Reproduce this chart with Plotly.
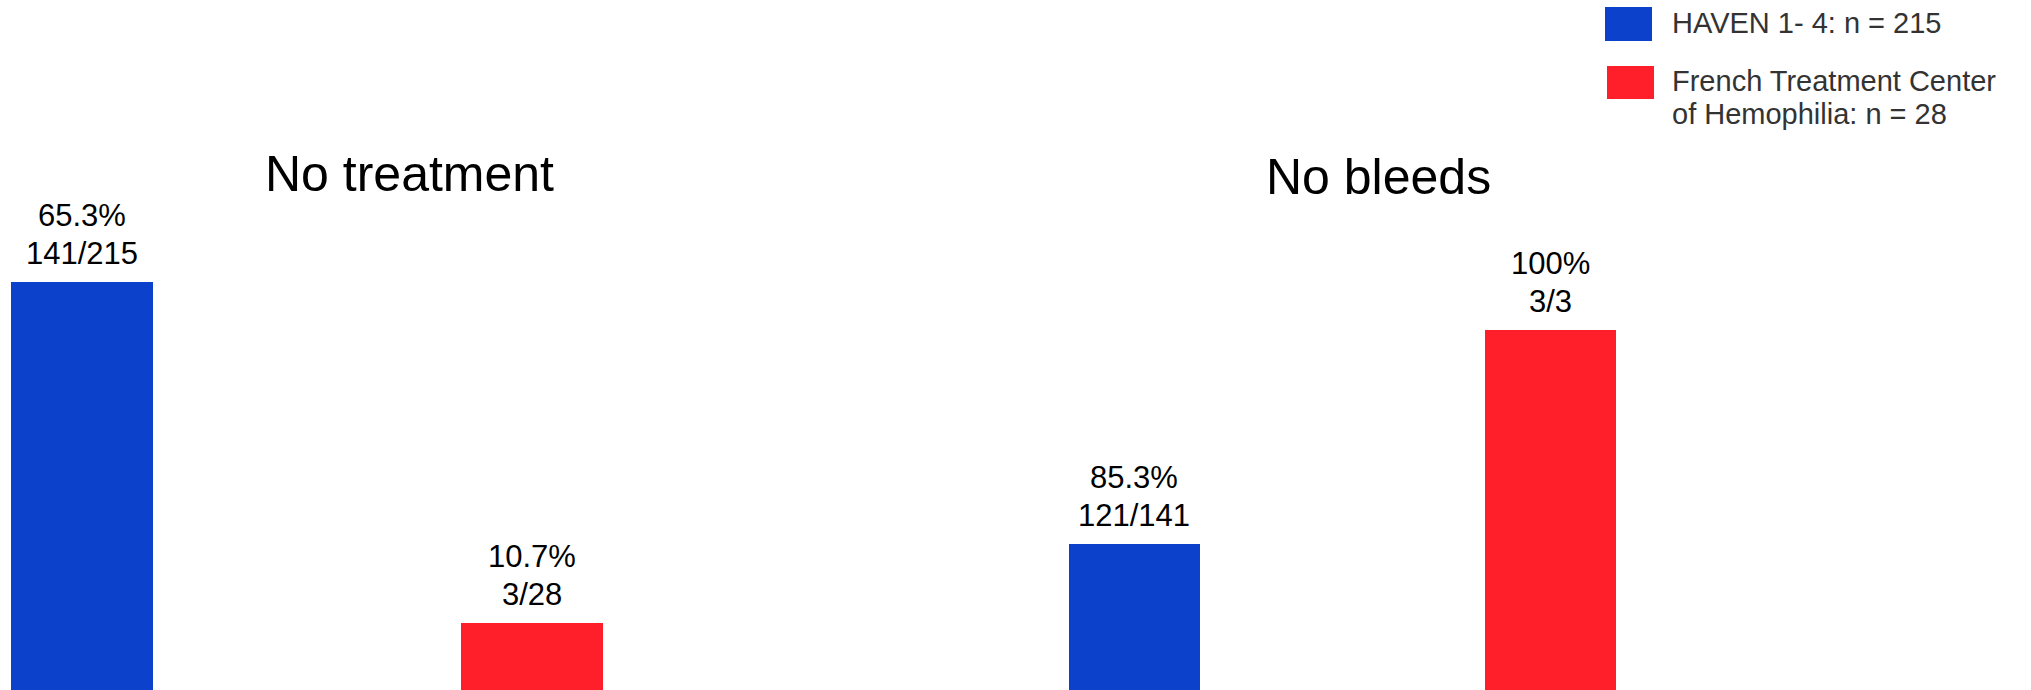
import plotly.graph_objects as go

# Groups compared in each panel
groups = ["HAVEN 1- 4", "French Treatment Center of Hemophilia"]
legend_lines = [["HAVEN 1- 4: n = 215"],
                ["French Treatment Center", "of Hemophilia: n = 28"]]
group_colors = ["#0c41cc", "#ff1f2b"]

# Panel 1: patients without treatment
no_treatment_pct = [65.3, 10.7]
no_treatment_frac = ["141/215", "3/28"]

# Panel 2: treated patients without bleeds
no_bleeds_pct = [85.3, 100]
no_bleeds_frac = ["121/141", "3/3"]

panel_titles = ["No treatment", "No bleeds"]

FONT = "Liberation Sans, Arial, Helvetica, sans-serif"
W, H = 2031, 690


def py(px):
    """Convert a pixel row (from the top) to paper y."""
    return 1 - px / H


def pxx(px):
    return px / W


fig = go.Figure()

fig.add_trace(go.Bar(x=groups, y=no_treatment_pct, marker_color=group_colors,
                     marker_line_width=0, width=0.315,
                     xaxis="x", yaxis="y", showlegend=False, hoverinfo="skip"))
fig.add_trace(go.Bar(x=groups, y=no_bleeds_pct, marker_color=group_colors,
                     marker_line_width=0, width=0.315,
                     xaxis="x2", yaxis="y2", showlegend=False, hoverinfo="skip"))

annotations = []
# Value labels above bars: fraction line just above the bar, percentage above it
label_font = dict(family=FONT, size=31, color="#000000")
for xref, yref, pcts, fracs in [("x", "y", no_treatment_pct, no_treatment_frac),
                                ("x2", "y2", no_bleeds_pct, no_bleeds_frac)]:
    for g, p, f in zip(groups, pcts, fracs):
        for text, shift in [(f, 9), (f"{p:g}%", 47)]:
            annotations.append(dict(
                x=g, y=p, xref=xref, yref=yref, text=text,
                showarrow=False, xanchor="center", yanchor="bottom", yshift=shift,
                font=label_font,
            ))

# Panel titles
for title, cx, cy in [(panel_titles[0], 409, 174), (panel_titles[1], 1378, 177)]:
    annotations.append(dict(
        x=pxx(cx), y=py(cy), xref="paper", yref="paper", text=title,
        showarrow=False, xanchor="center", yanchor="middle",
        font=dict(family=FONT, size=50, color="#000000"),
    ))

# Custom legend: large colour boxes with text beside them
shapes = []
box_rows = [(1605, 7, 1652, 41), (1607, 66, 1654, 99)]
text_rows = [[23], [81, 114]]
for color, (x0, y0, x1, y1), lines, ys in zip(group_colors, box_rows, legend_lines, text_rows):
    shapes.append(dict(type="rect", xref="paper", yref="paper",
                       x0=pxx(x0), x1=pxx(x1), y0=py(y1), y1=py(y0),
                       fillcolor=color, line_width=0))
    for line, ly in zip(lines, ys):
        annotations.append(dict(
            x=pxx(1670), y=py(ly), xref="paper", yref="paper", text=line,
            showarrow=False, xanchor="left", yanchor="middle",
            font=dict(family=FONT, size=29, color="#333333"),
        ))

hidden = dict(showgrid=False, zeroline=False, showticklabels=False,
              showline=False, ticks="", fixedrange=True)

fig.update_layout(
    width=W, height=H,
    margin=dict(l=0, r=0, t=0, b=0),
    paper_bgcolor="white", plot_bgcolor="white",
    xaxis=dict(domain=[0, 700 / W], range=[-0.182, 1.372], **hidden),
    yaxis=dict(domain=[0, 1], range=[0, 110.4], **hidden),
    xaxis2=dict(domain=[1000 / W, 1800 / W], range=[-0.3233, 1.5998], anchor="y2", **hidden),
    yaxis2=dict(domain=[0, 1], range=[75.27, 122.66], anchor="x2", **hidden),
    annotations=annotations,
    shapes=shapes,
    bargap=0,
)

fig.write_html("out.html")
